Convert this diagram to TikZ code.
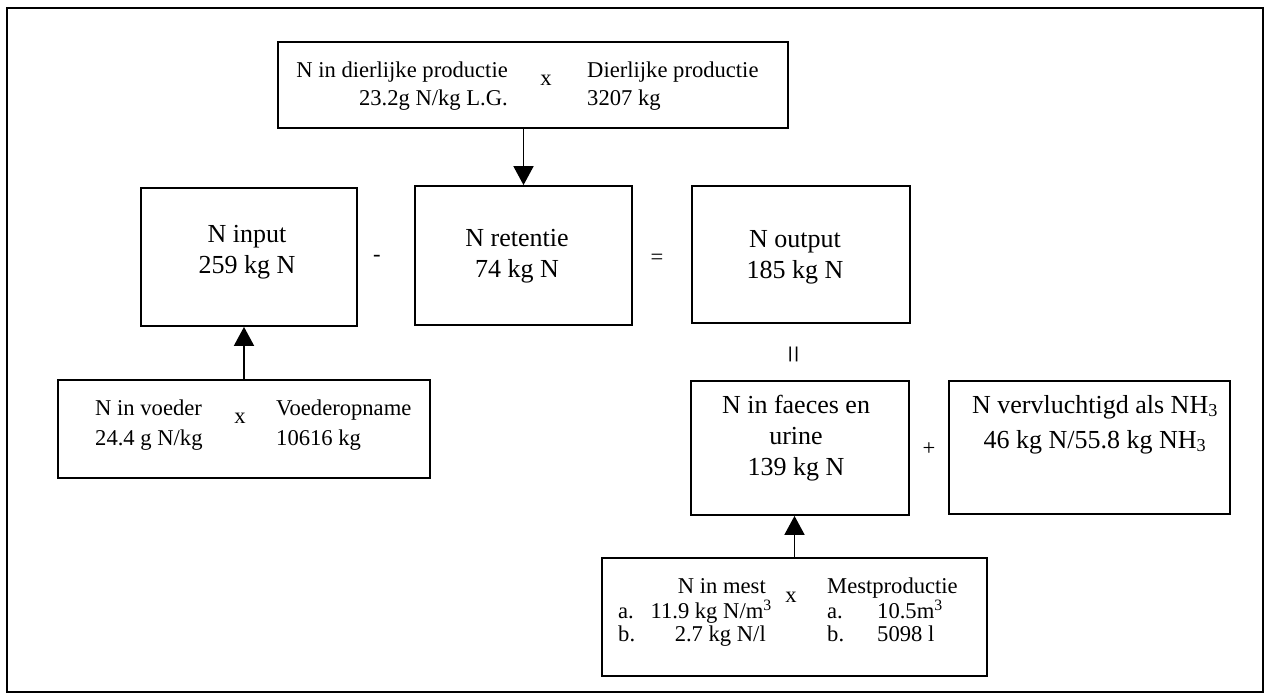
\documentclass[tikz,border=0pt]{standalone}
\usepackage{fontspec}
\setmainfont{Liberation Serif}
\usetikzlibrary{arrows.meta}
\begin{document}
\begin{tikzpicture}[x=1pt,y=-1pt,
  box/.style={draw, line width=1.8pt, inner sep=0pt},
  lbl/.style={inner sep=0pt, font=\fontsize{22.6}{31}\selectfont},
  biglbl/.style={inner sep=0pt, align=center, font=\fontsize{26}{31}\selectfont},
  arr/.style={line width=1.8pt, -{Triangle[length=19pt,width=20pt]}}]
\useasboundingbox (0,0) rectangle (1266,700);
% outer frame
\draw[line width=2pt] (7,8) rectangle (1263,692);

% boxes
\node[box, minimum width=510pt, minimum height=86pt]  (prod)   at (533,85) {};
\node[box, minimum width=216pt, minimum height=138pt] (input)  at (249,257) {};
\node[box, minimum width=217pt, minimum height=139pt] (ret)    at (523.5,255.5) {};
\node[box, minimum width=218pt, minimum height=137pt] (out)    at (801,254.5) {};
\node[box, minimum width=372pt, minimum height=98pt]  (feed)   at (244,429) {};
\node[box, minimum width=218pt, minimum height=134pt] (faeces) at (800,448) {};
\node[box, minimum width=281pt, minimum height=133pt] (nh3)    at (1089.5,447.5) {};
\node[box, minimum width=385pt, minimum height=118pt] (mest)   at (794.5,617) {};

% animal production
\node[lbl, anchor=mid east] (p1) at (508,75)  {N in dierlijke productie};
\node[lbl, anchor=mid east] (p2) at (508,103) {23.2g N/kg L.G.};
\node[lbl] (px) at (546,80) {x};
\node[lbl, anchor=mid west] (p3) at (587,75)  {Dierlijke productie};
\node[lbl, anchor=mid west] (p4) at (587,103) {3207 kg};

% balance row
\node[biglbl] (tin)  at (247,252)   {N input\\259 kg N};
\node[biglbl] (tret) at (517,256)   {N retentie\\74 kg N};
\node[biglbl] (tout) at (795,257.5) {N output\\185 kg N};
\node[lbl] (minus) at (377,258) {-};
\node[lbl] (eq)    at (657,259) {=};
\node[lbl, font=\fontsize{32}{32}\selectfont, rotate=90] (eqv) at (797,354) {=};
\node[lbl] (plus)  at (929,449) {+};

% feed
\node[lbl, anchor=mid west] (f1) at (95,413)  {N in voeder};
\node[lbl, anchor=mid west] (f2) at (95,443)  {24.4 g N/kg};
\node[lbl] (fx) at (240,418) {x};
\node[lbl, anchor=mid west] (f3) at (276,413) {Voederopname};
\node[lbl, anchor=mid west] (f4) at (276,443) {10616 kg};

% faeces and ammonia
\node[biglbl] (tfa) at (796,438) {N in faeces en\\urine\\139 kg N};
\node[biglbl] (tnh) at (1095,424.5) {N vervluchtigd als NH\textsubscript{3}\\[4pt]46 kg N/55.8 kg NH\textsubscript{3}};

% manure
\node[lbl, anchor=mid east] (m1) at (766,591) {N in mest};
\node[lbl, anchor=mid west] (m2) at (618,616) {a.};
\node[lbl, anchor=mid east] (m3) at (772,616) {11.9 kg N/m\textsuperscript{3}};
\node[lbl, anchor=mid west] (m4) at (618,639) {b.};
\node[lbl, anchor=mid east] (m5) at (766,639) {2.7 kg N/l};
\node[lbl] (mx) at (791,597) {x};
\node[lbl, anchor=mid west] (m6) at (827,591) {Mestproductie};
\node[lbl, anchor=mid west] (m7) at (827,616) {a.};
\node[lbl, anchor=mid west] (m8) at (877,616) {10.5m\textsuperscript{3}};
\node[lbl, anchor=mid west] (m9) at (827,639) {b.};
\node[lbl, anchor=mid west] (m10) at (877,639) {5098 l};

% arrows
\draw[arr] (prod.south -| ret.north) -- (ret.north);
\draw[arr] (feed.north) -- (feed.north |- input.south);
\draw[arr] (mest.north) -- (mest.north |- faeces.south);
\end{tikzpicture}
\end{document}
